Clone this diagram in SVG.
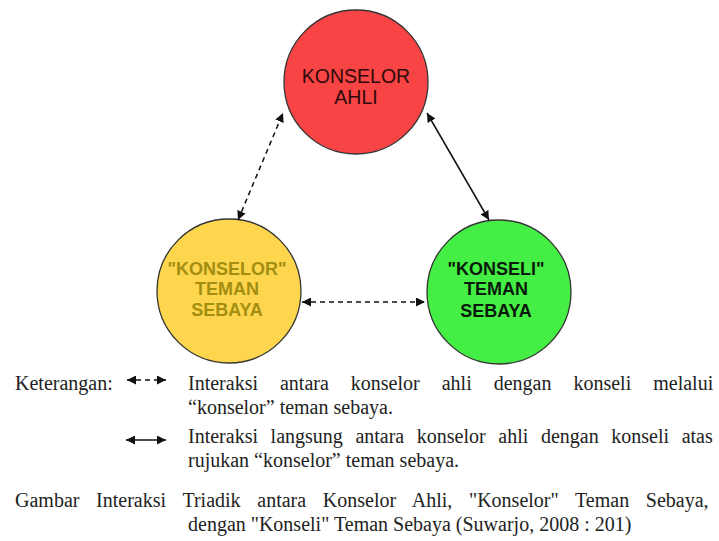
<svg xmlns="http://www.w3.org/2000/svg" width="719" height="541" viewBox="0 0 719 541">
<style>
.node{stroke:#333;stroke-width:1.3}
.lbl{font-family:"Liberation Sans",Arial,sans-serif;text-anchor:middle}
.conn{stroke:#111;stroke-width:1.5;fill:none}
.dash{stroke-dasharray:5 4}
.body{font-family:"Liberation Serif","Times New Roman",serif;font-size:20px;fill:#222}
</style>
<defs>
<marker id="ah" viewBox="0 0 10 10" refX="10" refY="5" markerWidth="6" markerHeight="6" orient="auto-start-reverse" markerUnits="strokeWidth">
<path d="M0,0 L10,5 L0,10 Z" fill="#111"/>
</marker>
</defs>
<rect width="719" height="541" fill="#fff"/>
<g id="konselor-ahli">
<circle class="node" cx="356" cy="82" r="72" fill="#f84444"/>
<text class="lbl" x="356" y="83" font-size="19.5" fill="#2e0a0a">KONSELOR</text>
<text class="lbl" x="356" y="104" font-size="19.5" fill="#2e0a0a">AHLI</text>
</g>
<g id="konselor-teman-sebaya">
<circle class="node" cx="229" cy="291" r="72" fill="#fdd64d"/>
<text class="lbl" x="227" y="275" font-size="18" font-weight="bold" fill="#a38e12">"KONSELOR"</text>
<text class="lbl" x="227" y="295" font-size="18" font-weight="bold" fill="#a38e12">TEMAN</text>
<text class="lbl" x="227" y="316" font-size="18" font-weight="bold" fill="#a38e12">SEBAYA</text>
</g>
<g id="konseli-teman-sebaya">
<circle class="node" cx="499" cy="292" r="72" fill="#44ee44"/>
<text class="lbl" x="496" y="275" font-size="18" font-weight="bold" fill="#0a1a0a">"KONSELI"</text>
<text class="lbl" x="496" y="295" font-size="18" font-weight="bold" fill="#0a1a0a">TEMAN</text>
<text class="lbl" x="496" y="317" font-size="18" font-weight="bold" fill="#0a1a0a">SEBAYA</text>
</g>
<g id="connectors">
<line class="conn dash" x1="238" y1="220" x2="283" y2="113" marker-start="url(#ah)" marker-end="url(#ah)"/>
<line class="conn" x1="427" y1="113" x2="489" y2="220" marker-start="url(#ah)" marker-end="url(#ah)"/>
<line class="conn dash" x1="302" y1="302" x2="425" y2="302" marker-start="url(#ah)" marker-end="url(#ah)"/>
</g>
<g id="legend">
<line class="conn dash" x1="127" y1="380" x2="166" y2="380" marker-start="url(#ah)" marker-end="url(#ah)"/>
<line class="conn" x1="126" y1="440" x2="166" y2="440" marker-start="url(#ah)" marker-end="url(#ah)"/>
<text class="body" x="15" y="390">Keterangan:</text>
<text class="body" x="188" y="390" word-spacing="17">Interaksi antara konselor ahli dengan konseli melalui</text>
<text class="body" x="188" y="414">“konselor” teman sebaya.</text>
<text class="body" x="188" y="443" word-spacing="7.6">Interaksi langsung antara konselor ahli dengan konseli atas</text>
<text class="body" x="188" y="467">rujukan “konselor” teman sebaya.</text>
<text class="body" x="15" y="507" word-spacing="11.7">Gambar Interaksi Triadik antara Konselor Ahli, "Konselor" Teman Sebaya,</text>
<text class="body" x="188" y="531">dengan "Konseli" Teman Sebaya (Suwarjo, 2008 : 201)</text>
</g>
</svg>
